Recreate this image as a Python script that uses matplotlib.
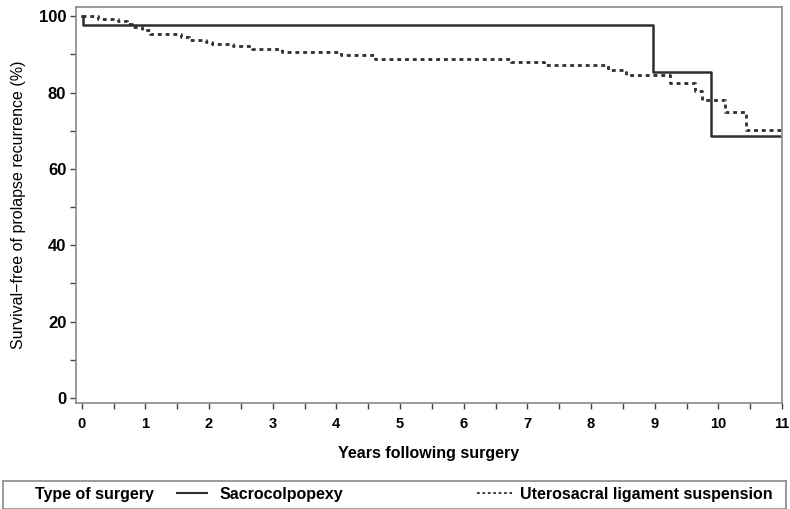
import matplotlib
matplotlib.use("Agg")
import matplotlib.pyplot as plt
from matplotlib.ticker import MultipleLocator
from matplotlib.lines import Line2D

# curve data (years, % free of recurrence)
sacro_years = [0, 0.02, 8.97, 9.89, 11.0]
sacro_surv = [100, 97.8, 85.5, 68.5, 68.5]

usls_years = [0, 0.25, 0.57, 0.71, 0.79, 0.94, 1.07, 1.56, 1.69, 1.95, 2.05,
              2.37, 2.68, 3.15, 4.08, 4.61, 6.74, 7.26, 8.26, 8.55, 9.24,
              9.63, 9.74, 10.1, 10.43, 11.0]
usls_surv = [100, 99.3, 98.7, 97.9, 97.2, 96.5, 95.3, 94.6, 93.8, 93.3, 92.8,
             92.1, 91.5, 90.7, 89.8, 88.9, 88.1, 87.3, 86.0, 84.5, 82.5,
             80.4, 78.1, 74.8, 70.1, 70.1]

x_ticks = list(range(0, 12))
y_ticks = [0, 20, 40, 60, 80, 100]

legend_title = "Type of surgery"
group_names = ["Sacrocolpopexy", "Uterosacral ligament suspension"]

plt.rcParams['font.family'] = ['Liberation Sans', 'DejaVu Sans']

W, H = 790, 509
fig = plt.figure(figsize=(W / 100, H / 100), dpi=100)

# plot frame in pixels
left, right, top, bottom = 76, 782, 7, 403
ax = fig.add_axes([left / W, (H - bottom) / H, (right - left) / W, (bottom - top) / H])

frame_col = "#8a8a8a"
line_col = "#2e2e2e"

ax.step(sacro_years, sacro_surv, where="post", color=line_col, lw=1.8)
ax.step(usls_years, usls_surv, where="post", color=line_col, lw=2.0,
        linestyle=(0, (1.4, 1.4)))

ax.set_xlim(-0.09, 11.0)
ax.set_ylim(-1.3, 102.4)

ax.set_xticks(x_ticks)
ax.set_yticks(y_ticks)
ax.xaxis.set_minor_locator(MultipleLocator(0.5))
ax.yaxis.set_minor_locator(MultipleLocator(10))
ax.tick_params(which="both", direction="out", length=4, width=1, color="#444444")
ax.tick_params(axis="x", labelsize=10.5, pad=6)
ax.tick_params(axis="y", labelsize=12, pad=3)
for lab in ax.get_xticklabels() + ax.get_yticklabels():
    lab.set_fontweight("bold")

for sp in ax.spines.values():
    sp.set_color(frame_col)
    sp.set_linewidth(1.2)

ax.set_xlabel("Years following surgery", fontsize=11.5, fontweight="bold",
              labelpad=11)
ax.set_ylabel("Survival\u2212free of prolapse recurrence (%)", fontsize=11.5,
              labelpad=9)

# legend box at the bottom
lax = fig.add_axes([2.5 / W, 0.5 / H, (786 - 2.5) / W, (509 - 481) / H])
lax.set_xlim(0, W)
lax.set_ylim(0, 1)
lax.set_xticks([])
lax.set_yticks([])
for sp in lax.spines.values():
    sp.set_color(frame_col)
    sp.set_linewidth(1.2)

lax.text(33, 0.5, legend_title, fontsize=11.5, fontweight="bold",
         va="center", ha="left")
lax.add_line(Line2D([176, 206], [0.55, 0.55], color=line_col, lw=1.5))
lax.text(219, 0.5, group_names[0], fontsize=11.5, fontweight="bold",
         va="center", ha="left")
lax.add_line(Line2D([478, 514], [0.55, 0.55], color=line_col, lw=1.3,
                    linestyle=(0, (1.5, 1.5))))
lax.text(522, 0.5, group_names[1], fontsize=11.5, fontweight="bold",
         va="center", ha="left")

fig.savefig("out.png", dpi=100)
